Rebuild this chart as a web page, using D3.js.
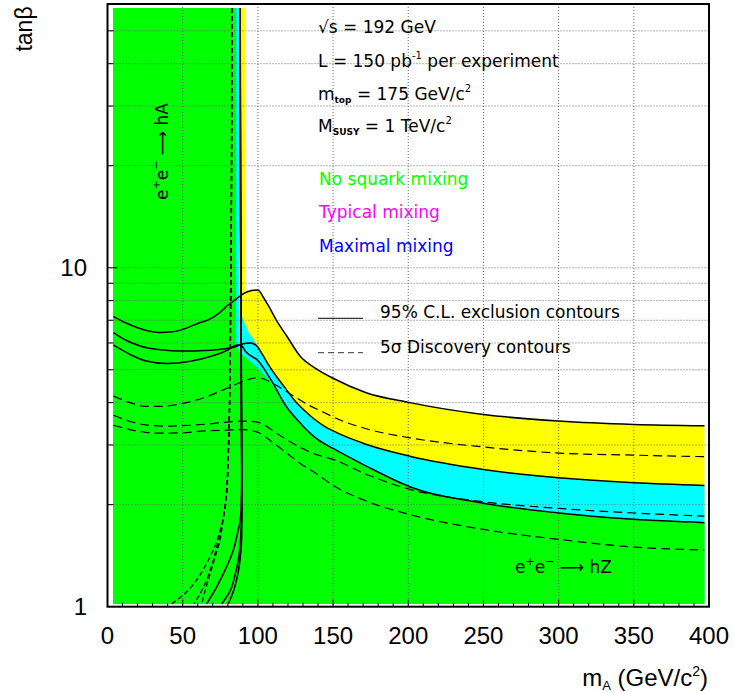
<!DOCTYPE html>
<html><head><meta charset="utf-8">
<script src="https://cdn.jsdelivr.net/npm/d3@7"></script>
<style>body{margin:0;background:#fff} svg{display:block}</style>
</head><body><svg id="c" width="734" height="692"></svg>
<script>
// ---------- data (mA in GeV/c^2, tan beta) ----------
const xTickValues = [0, 50, 100, 150, 200, 250, 300, 350, 400];
const yTickLabels = [1, 10];
const fillRangeX = [3.7, 397];
const fillRangeY = [1.018, 58.4];

// hZ exclusion contours (95% C.L., solid)
const curveA = [[4,7.18],[12,6.88],[20,6.65],[28,6.5],[35,6.44],[43,6.47],[50,6.58],[60,6.85],[68,7.05],[75,7.4],[80,7.75],[85,8.05],[89,8.3],[93,8.5],[100,8.6],[103.5,8.2],[106.9,7.74],[113.6,6.85],[119.2,6.29],[128,5.49],[140,5.0],[150,4.72],[172,4.28],[201,4.0],[250,3.69],[300,3.53],[350,3.45],[397,3.42]];
const curveB = [[4,6.44],[12,6.12],[21.7,5.88],[35,5.73],[50,5.68],[65,5.7],[78,5.77],[85,5.85],[90.3,5.97],[95,6.0],[99.2,5.88],[103,5.55],[106.9,5.19],[112,4.8],[118,4.43],[124,4.08],[131.3,3.78],[144.6,3.4],[150,3.3],[172.3,3.01],[201,2.78],[250,2.54],[300,2.40],[350,2.32],[397,2.28]];
const curveC = [[4,5.91],[15,5.55],[25,5.32],[39.5,5.22],[55,5.3],[70,5.5],[80,5.72],[86,5.92],[89,5.9],[92,5.65],[100.3,5.31],[109.2,4.63],[118,3.95],[129,3.45],[140,3.11],[150,2.93],[172,2.60],[201,2.26],[250,2.02],[300,1.89],[350,1.81],[397,1.77]];

// hZ discovery contours (5 sigma, dashed)
const curveE1 = [[4,4.18],[15,4.0],[25,3.9],[35,3.9],[50,3.98],[65,4.15],[80,4.42],[90,4.62],[100,4.74],[111,4.53],[122,4.23],[133,3.95],[144.6,3.73],[150,3.63],[172,3.35],[201,3.15],[250,2.96],[300,2.84],[350,2.80],[397,2.77]];
const curveE2 = [[4,3.67],[15,3.52],[25,3.44],[39.5,3.41],[55,3.43],[70,3.47],[78,3.5],[91.5,3.53],[100,3.5],[113.6,3.22],[127,2.97],[140,2.8],[150,2.72],[172,2.46],[201,2.22],[250,2.04],[300,1.95],[350,1.89],[397,1.85]];
const curveE3 = [[4,3.43],[15,3.33],[25,3.27],[35,3.25],[50,3.26],[65,3.3],[80,3.32],[90,3.33],[100,3.27],[110,3.05],[120,2.82],[128,2.65],[140,2.45],[150,2.28],[172,2.05],[201,1.87],[250,1.69],[300,1.58],[350,1.50],[397,1.47]];

// hA exclusion contours (solid, near-vertical)
const curveS1 = [[88.1,58.4],[88.4,20],[88.7,8],[89.0,4],[89.3,2.5],[88.6,1.85],[86.5,1.65],[83.7,1.47],[80.5,1.35],[77,1.25],[72,1.13],[66,1.02]];
const curveS2 = [[88.1,58.4],[88.4,20],[88.7,8],[89.0,4],[89.3,2.3],[89.3,2.0],[88.6,1.6],[87.3,1.4],[85,1.25],[81,1.1],[76,1.02]];
const curveS3 = [[88.2,58.4],[88.5,20],[88.8,8],[89.1,4],[89.4,2.3],[89.4,2.0],[89.2,1.6],[88.3,1.4],[86.7,1.25],[84,1.12],[80.4,1.02]];

// hA discovery contours (dashed, near-vertical)
const curveV1 = [[82.9,58.4],[82.6,20],[82,8],[81.3,4],[80.6,3],[79.8,2.4],[78.5,2.0],[76.5,1.78],[73.5,1.6],[70.4,1.47],[65,1.32],[59.4,1.2],[52,1.1],[42.8,1.02]];
const curveV2 = [[82.7,58.4],[82.4,20],[81.8,8],[81.1,4],[80.4,3],[79.6,2.4],[78.2,1.98],[75.5,1.7],[72.7,1.5],[69.5,1.33],[66,1.2],[62,1.1],[57.6,1.02]];
const curveV3 = [[82.8,58.4],[82.5,20],[81.9,8],[81.2,4],[80.5,3],[79.9,2.4],[78.8,2.07],[76.8,1.8],[74.9,1.58],[71.5,1.4],[68.2,1.25],[65.3,1.13],[62.7,1.02]];

// excluded-region fills: vertical band edge + lower boundary
const yellowBandEdge = 91.5;
const yellowEdge = [[91.5,8.4],[93,8.5],[100,8.6],[103.5,8.2],[106.9,7.74],[113.6,6.85],[119.2,6.29],[128,5.49],[140,5.0],[150,4.72],[172,4.28],[201,4.0],[250,3.69],[300,3.53],[350,3.45],[397,3.42]];
const cyanBandEdge = 87.6;
const cyanEdge = [[87.6,7.6],[90,7.1],[91.5,6.8],[95,6.35],[99.2,5.95],[103,5.55],[106.9,5.19],[112,4.8],[118,4.43],[124,4.08],[131.3,3.78],[144.6,3.4],[150,3.3],[172.3,3.01],[201,2.78],[250,2.54],[300,2.40],[350,2.32],[397,2.28]];
const greenBandEdge = 85.5;
const greenEdge = [[85.5,5.9],[87,5.72],[91.5,5.45],[100,5.05],[109.2,4.55],[118,3.95],[129,3.45],[140,3.11],[150,2.93],[172,2.60],[201,2.26],[250,2.02],[300,1.89],[350,1.81],[397,1.77]];

const gridX = [50, 100, 150, 200, 250, 300, 350];
const gridY = [2, 3, 4, 5, 6, 7, 8, 9, 10, 20, 30, 40, 50];

// ---------- drawing ----------
const svg = d3.select('#c');
const x = d3.scaleLinear().domain([0, 400]).range([107.5, 709]);
const y = d3.scaleLog().domain([1, 60]).range([606.7, 4]);
const FONT = "'Liberation Sans', Arial, sans-serif";
const LFONT = "'DejaVu Sans', sans-serif";
const LSIZE = 17;

function band(edge, color) {
  svg.append('rect')
    .attr('x', x(fillRangeX[0])).attr('y', y(fillRangeY[1]))
    .attr('width', x(edge) - x(fillRangeX[0]))
    .attr('height', y(fillRangeY[0]) - y(fillRangeY[1]))
    .attr('fill', color);
}
function under(pts, color) {
  const a = d3.area().x(d => x(d[0])).y0(y(fillRangeY[0])).y1(d => y(d[1])).curve(d3.curveMonotoneX);
  svg.append('path').attr('d', a(pts)).attr('fill', color);
}
band(yellowBandEdge, '#ffff00'); under(yellowEdge, '#ffff00');
band(cyanBandEdge, '#00ffff'); under(cyanEdge, '#00ffff');
band(greenBandEdge, '#00ff00'); under(greenEdge, '#00ff00');

// grid
const g = svg.append('g').attr('stroke', '#666').attr('stroke-width', 1).attr('stroke-dasharray', '1,2');
gridX.forEach(v => g.append('line').attr('x1', x(v)).attr('x2', x(v)).attr('y1', y(60)).attr('y2', y(1)));
gridY.forEach(v => g.append('line').attr('x1', x(0)).attr('x2', x(400)).attr('y1', y(v)).attr('y2', y(v)));

// curves
const lineX = d3.line().x(d => x(d[0])).y(d => y(d[1])).curve(d3.curveMonotoneX);
const lineY = d3.line().x(d => x(d[0])).y(d => y(d[1])).curve(d3.curveMonotoneY);
[curveA, curveB, curveC].forEach(c => svg.append('path').attr('d', lineX(c)).attr('fill', 'none').attr('stroke', '#000').attr('stroke-width', 1.5));
[curveE1, curveE2, curveE3].forEach(c => svg.append('path').attr('d', lineX(c)).attr('fill', 'none').attr('stroke', '#000').attr('stroke-width', 1.2).attr('stroke-dasharray', '9,5'));
[curveS1, curveS2, curveS3].forEach(c => svg.append('path').attr('d', lineY(c)).attr('fill', 'none').attr('stroke', '#000').attr('stroke-width', 1.6));
[curveV1, curveV2, curveV3].forEach(c => svg.append('path').attr('d', lineY(c)).attr('fill', 'none').attr('stroke', '#000').attr('stroke-width', 1.3).attr('stroke-dasharray', '5,3'));

// frame and ticks
svg.append('rect').attr('x', x(0)).attr('y', y(60)).attr('width', x(400) - x(0)).attr('height', y(1) - y(60))
  .attr('fill', 'none').attr('stroke', '#000').attr('stroke-width', 2);
const t = svg.append('g').attr('stroke', '#000').attr('stroke-width', 1);
d3.range(10, 400, 10).forEach(v => {
  const L = v % 50 === 0 ? 7 : 4;
  t.append('line').attr('x1', x(v)).attr('x2', x(v)).attr('y1', y(1)).attr('y2', y(1) - L);
});
[2,3,4,5,6,7,8,9,10,20,30,40,50].forEach(v => {
  const L = v === 10 ? 10 : 6;
  t.append('line').attr('x1', x(0)).attr('x2', x(0) + L).attr('y1', y(v)).attr('y2', y(v));
});

// tick labels
xTickValues.forEach(v => svg.append('text').attr('x', x(v)).attr('y', 644).attr('text-anchor', 'middle')
  .attr('font-family', FONT).attr('font-size', 24).text(v));
yTickLabels.forEach(v => svg.append('text').attr('x', 87).attr('y', y(v)).attr('dy', '0.36em').attr('text-anchor', 'end')
  .attr('font-family', FONT).attr('font-size', 24).text(v));

// axis titles
svg.append('text').attr('transform', 'translate(32,29) rotate(-90)').attr('text-anchor', 'middle')
  .attr('font-family', FONT).attr('font-size', 23).text('tanβ');
const xt = svg.append('text').attr('x', 708).attr('y', 686).attr('text-anchor', 'end').attr('font-family', FONT).attr('font-size', 24);
xt.append('tspan').text('m');
xt.append('tspan').attr('font-size', 13).attr('dy', 4).text('A');
xt.append('tspan').attr('dy', -4).text(' (GeV/c');
xt.append('tspan').attr('font-size', 14).attr('dy', -10).text('2');
xt.append('tspan').attr('dy', 10).text(')');

// legend / annotation text
function ltext(xp, yp, color) {
  return svg.append('text').attr('x', xp).attr('y', yp).attr('font-family', LFONT).attr('font-size', LSIZE).attr('fill', color || '#000');
}
ltext(318, 33).text('√s = 192 GeV');
let tt = ltext(318, 67); tt.append('tspan').text('L = 150 pb');
tt.append('tspan').attr('font-size', 10).attr('dy', -8).text('-1');
tt.append('tspan').attr('dy', 8).text(' per experiment');
tt = ltext(318, 100); tt.append('tspan').text('m');
tt.append('tspan').attr('font-size', 9).attr('font-weight', 'bold').attr('dy', 3).text('top');
tt.append('tspan').attr('dy', -3).text(' = 175 GeV/c');
tt.append('tspan').attr('font-size', 10).attr('dy', -8).text('2');
tt = ltext(318, 132); tt.append('tspan').text('M');
tt.append('tspan').attr('font-size', 9).attr('font-weight', 'bold').attr('dy', 3).text('SUSY');
tt.append('tspan').attr('dy', -3).text(' = 1 TeV/c');
tt.append('tspan').attr('font-size', 10).attr('dy', -8).text('2');
ltext(319, 185, '#00ff00').text('No squark mixing');
ltext(319, 218, '#ff00ff').text('Typical mixing');
ltext(319, 252, '#0000ff').text('Maximal mixing');
svg.append('line').attr('x1', 318).attr('x2', 363).attr('y1', 318.3).attr('y2', 318.3).attr('stroke', '#000').attr('stroke-width', 1);
ltext(380, 318).text('95% C.L. exclusion contours');
svg.append('line').attr('x1', 318).attr('x2', 363).attr('y1', 352.7).attr('y2', 352.7).attr('stroke', '#333').attr('stroke-width', 1).attr('stroke-dasharray', '6,4');
ltext(380, 353).text('5σ Discovery contours');

function reaction(sel, prod) {
  sel.append('tspan').text('e');
  sel.append('tspan').attr('font-size', 11).attr('dy', -8).text('+');
  sel.append('tspan').attr('dy', 8).text('e');
  sel.append('tspan').attr('font-size', 11).attr('dy', -8).text('−');
  sel.append('tspan').attr('dy', 8).text(' ⟶ ' + prod);
}
reaction(svg.append('text').attr('transform', 'translate(168,200) rotate(-90)').attr('font-family', LFONT).attr('font-size', LSIZE), 'hA');
reaction(ltext(515, 573), 'hZ');
</script></body></html>
